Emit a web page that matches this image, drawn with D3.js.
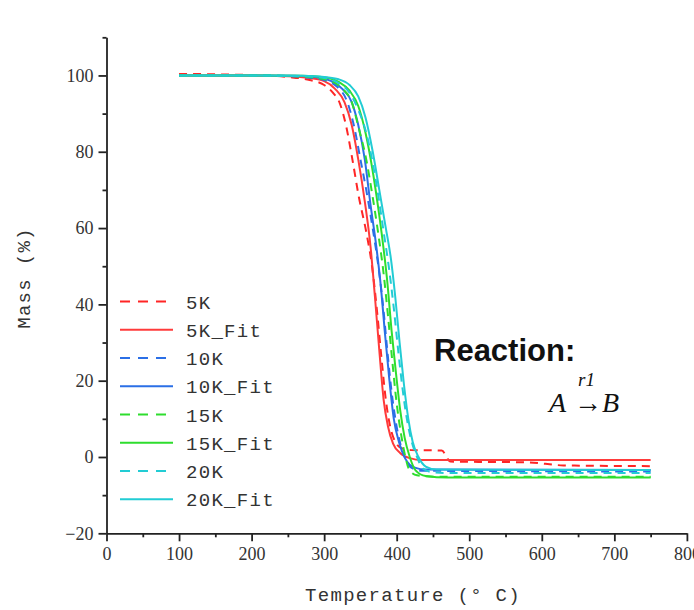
<!DOCTYPE html>
<html>
<head>
<meta charset="utf-8">
<script src="https://cdn.jsdelivr.net/npm/d3@7"></script>
<style>
body { margin: 0; background: #fff; }
</style>
</head>
<body>
<svg width="694" height="610"></svg>
<script>
// tick values
const xMajorTicks = [0, 100, 200, 300, 400, 500, 600, 700, 800];
const xMinorTicks = [50, 150, 250, 350, 450, 550, 650, 750];
const yMajorTicks = [-20, 0, 20, 40, 60, 80, 100];
const yMinorTicks = [-10, 10, 30, 50, 70, 90, 110];

// [temperature °C, mass %]
const k5 = [[100,100.4],[150,100.3],[200,100.1],[250,99.6],[280,98.8],[300,97.5],[312,95.5],[322,92.5],[330,87],[338,79],[348,68],[358,59],[366,50],[373,38],[379,26],[385,15],[391,8],[398,4],[408,2.2],[420,1.8],[462,1.7],[474,-1.2],[580,-1.4],[630,-2.2],[750,-2.4]];
const k5Fit = [[100,100],[200,100],[250,99.8],[280,99.3],[300,98.5],[315,96.5],[328,93],[338,87],[347,78],[356,67],[364,55],[370,42],[376,28],[382,15],[388,8],[395,3.5],[405,1],[418,-0.3],[435,-0.8],[750,-0.8]];
const k10 = [[100,100],[200,100],[250,99.8],[280,99.4],[300,98.8],[318,97],[332,93],[342,86],[350,78],[358,70],[366,61],[374,51],[381,40],[387,28],[393,17],[399,9],[405,3.5],[412,-0.5],[420,-2.8],[435,-3.6],[750,-3.8]];
const k10Fit = [[100,100],[200,100],[260,99.9],[290,99.5],[310,98.5],[325,96.5],[338,93],[347,87],[356,78],[364,66],[372,55],[378,45],[384,32],[390,20],[396,10],[403,4],[412,-0.5],[425,-2.8],[440,-3.3],[750,-3.4]];
const k15 = [[100,100],[200,100],[260,99.8],[290,99.3],[310,98.5],[325,96.5],[338,93],[348,86],[358,78],[367,68],[375,58],[382,48],[388,37],[394,25],[400,14],[406,6],[412,0],[418,-3.6],[428,-4.8],[460,-5.2],[750,-5.2]];
const k15Fit = [[100,100],[200,100],[270,99.9],[300,99.5],[320,98.3],[335,96],[347,92],[357,85],[366,76],[374,66],[381,56],[387,46],[393,33],[399,22],[405,12],[411,5],[418,0],[426,-3.5],[440,-5],[470,-5.4],[750,-5.4]];
const k20 = [[100,100],[200,100],[270,99.8],[300,99.3],[320,98],[335,95.5],[347,91],[358,85],[367,77],[375,68],[382,59],[389,50],[396,39],[402,28],[408,18],[414,10],[420,4.5],[427,0.5],[436,-3],[450,-4],[470,-4.2],[750,-4.2]];
const k20Fit = [[100,100],[200,100],[270,99.9],[300,99.6],[320,99],[335,97.5],[347,94.5],[357,89],[367,80],[376,70],[385,60],[392,52],[398,42],[404,30],[410,19],[416,10],[422,4],[430,0],[440,-2.5],[455,-3.3],[750,-3.4]];

const seriesNames = ["5K", "5K_Fit", "10K", "10K_Fit", "15K", "15K_Fit", "20K", "20K_Fit"];
const seriesData = [k5, k5Fit, k10, k10Fit, k15, k15Fit, k20, k20Fit];

const colors = ["#ff2525", "#ff3b3b", "#2b6fe6", "#2b6fe6", "#2edd2e", "#2edd2e", "#22ccd4", "#22ccd4"];
const dashed = [true, false, true, false, true, false, true, false];

const svg = d3.select("svg");

const x = d3.scaleLinear().domain([0, 800]).range([106.5, 686.9]);
const y = d3.scaleLinear().domain([-20, 110]).range([533.3, 37.3]);

const line = d3.line()
    .x(d => x(d[0]))
    .y(d => y(d[1]))
    .curve(d3.curveMonotoneX);

// curves
svg.append("g")
    .selectAll("path")
    .data(seriesData)
    .enter()
    .append("path")
    .attr("d", d => line(d))
    .attr("fill", "none")
    .attr("stroke", (d, i) => colors[i])
    .attr("stroke-width", 2)
    .attr("stroke-dasharray", (d, i) => dashed[i] ? "8,6" : null);

// axes
const tickFont = "Liberation Serif, Times New Roman, serif";

const yAxis = d3.axisLeft(y).tickValues(yMajorTicks).tickSize(8).tickSizeOuter(0).tickPadding(5);
const yMinor = d3.axisLeft(y).tickValues(yMinorTicks).tickSize(4).tickFormat("");
const xAxis = d3.axisBottom(x).tickValues(xMajorTicks).tickSize(8).tickSizeOuter(0).tickPadding(6);
const xMinor = d3.axisBottom(x).tickValues(xMinorTicks).tickSize(4).tickFormat("");

svg.append("g").attr("transform", "translate(" + x(0) + ",0)").call(yAxis);
svg.append("g").attr("transform", "translate(" + x(0) + ",0)").call(yMinor).select(".domain").remove();
svg.append("g").attr("transform", "translate(0," + y(-20) + ")").call(xAxis);
svg.append("g").attr("transform", "translate(0," + y(-20) + ")").call(xMinor).select(".domain").remove();

svg.selectAll(".domain, .tick line").attr("stroke", "#222").attr("stroke-width", 1.8);
svg.selectAll(".tick text")
    .attr("font-family", tickFont)
    .attr("font-size", 18)
    .attr("fill", "#333");

// axis titles
const monoFont = "Liberation Mono, DejaVu Sans Mono, monospace";
svg.append("text")
    .attr("x", 413)
    .attr("y", 601)
    .attr("text-anchor", "middle")
    .attr("font-family", monoFont)
    .attr("font-size", 19)
    .attr("letter-spacing", 1.3)
    .attr("fill", "#333")
    .text("Temperature (° C)");

svg.append("text")
    .attr("transform", "translate(30,278) rotate(-90)")
    .attr("text-anchor", "middle")
    .attr("font-family", monoFont)
    .attr("font-size", 19)
    .attr("letter-spacing", 1.3)
    .attr("fill", "#333")
    .text("Mass (%)");

// legend
const legend = svg.append("g")
    .selectAll("g")
    .data(seriesNames)
    .enter()
    .append("g")
    .attr("transform", (d, i) => "translate(120," + (301.5 + i * 28.25) + ")");

legend.append("line")
    .attr("x1", 0).attr("x2", 53)
    .attr("stroke", (d, i) => colors[i])
    .attr("stroke-width", 2)
    .attr("stroke-dasharray", (d, i) => dashed[i] ? "10,8" : null);

legend.append("text")
    .attr("x", 66)
    .attr("y", 7)
    .attr("font-family", monoFont)
    .attr("font-size", 19)
    .attr("letter-spacing", 1.3)
    .attr("fill", "#333")
    .text(d => d);

// reaction annotation
svg.append("text")
    .attr("x", 434)
    .attr("y", 361)
    .attr("font-family", "Liberation Sans, Arial, sans-serif")
    .attr("font-weight", "bold")
    .attr("font-size", 31)
    .attr("fill", "#111")
    .text("Reaction:");

svg.append("text")
    .attr("x", 578)
    .attr("y", 386)
    .attr("font-family", tickFont)
    .attr("font-style", "italic")
    .attr("font-size", 19)
    .attr("fill", "#111")
    .text("r1");

const eq = svg.append("text")
    .attr("x", 549)
    .attr("y", 412)
    .attr("font-family", tickFont)
    .attr("font-size", 28)
    .attr("fill", "#111");
eq.append("tspan").attr("font-style", "italic").text("A");
eq.append("tspan").attr("dx", 8).text("→");
eq.append("tspan").attr("font-style", "italic").text("B");
</script>
</body>
</html>
